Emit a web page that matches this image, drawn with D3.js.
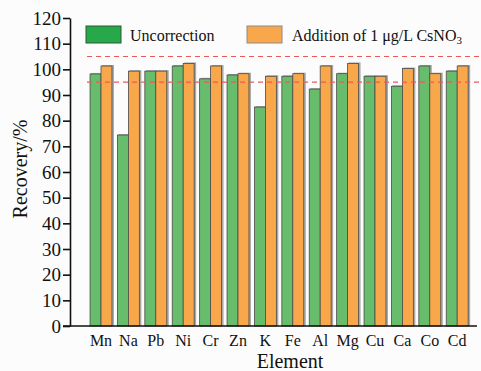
<!DOCTYPE html>
<html>
<head>
<meta charset="utf-8">
<script src="https://cdn.jsdelivr.net/npm/d3@7"></script>
<style>
  body { margin: 0; background: #fcfcfc; }
  svg { display: block; }
  text { font-family: "Liberation Serif", "Times New Roman", serif; fill: #111; }
</style>
</head>
<body>
<div id="chart"></div>
<script>
// data
var elements = ["Mn", "Na", "Pb", "Ni", "Cr", "Zn", "K", "Fe", "Al", "Mg", "Cu", "Ca", "Co", "Cd"];
var uncorrection = [98.2, 74.4, 99.3, 101.3, 96.3, 97.8, 85.3, 97.3, 92.3, 98.3, 97.3, 93.4, 101.3, 99.3];
var withCs = [101.3, 99.3, 99.3, 102.3, 101.3, 98.3, 97.3, 98.3, 101.3, 102.3, 97.3, 100.3, 98.3, 101.3];
var yTicks = [0, 10, 20, 30, 40, 50, 60, 70, 80, 90, 100, 110, 120];
var limits = [95, 105];

var width = 481, height = 371;

var svg = d3.select('#chart').append('svg')
  .attr('width', width)
  .attr('height', height);

svg.append('rect').attr('width', width).attr('height', height).attr('fill', '#fcfcfc');

var y = d3.scaleLinear().domain([0, 120]).range([326, 18]);

var x = d3.scaleBand()
  .domain(elements)
  .range([87.3, 470.9])
  .paddingInner(0.2)
  .paddingOuter(0.1);

var half = x.bandwidth() / 2;

var series = [
  { name: 'unc', values: uncorrection, fill: '#68bd6c', off: 0 },
  { name: 'cs', values: withCs, fill: '#f8a84b', off: half }
];

// bars, with a soft grey shadow like the original
series.forEach(function (s) {
  var g = svg.append('g').attr('class', 'bars-' + s.name);
  g.selectAll('rect.shadow')
    .data(s.values)
    .enter().append('rect')
    .attr('class', 'shadow')
    .attr('x', function (d, i) { return x(elements[i]) + s.off + 1; })
    .attr('y', function (d) { return y(d) - 1; })
    .attr('width', half + 1)
    .attr('height', function (d) { return y(0) - y(d) + 1; })
    .attr('fill', '#a8a8a8');
  g.selectAll('rect.bar')
    .data(s.values)
    .enter().append('rect')
    .attr('class', 'bar')
    .attr('x', function (d, i) { return x(elements[i]) + s.off; })
    .attr('y', function (d) { return y(d); })
    .attr('width', half)
    .attr('height', function (d) { return y(0) - y(d); })
    .attr('fill', s.fill)
    .attr('stroke', '#4a4a4a')
    .attr('stroke-width', 0.8);
});

// dashed limit lines
svg.selectAll('line.limit')
  .data(limits)
  .enter().append('line')
  .attr('class', 'limit')
  .attr('x1', 87).attr('x2', width)
  .attr('y1', function (d) { return y(d); })
  .attr('y2', function (d) { return y(d); })
  .attr('stroke', '#ea5a5a')
  .attr('stroke-width', 1.1)
  .attr('stroke-dasharray', '5,4');

// y axis
var yAxis = svg.append('g')
  .attr('transform', 'translate(70,0)')
  .call(d3.axisLeft(y).tickValues(yTicks).tickSize(7).tickSizeOuter(0).tickPadding(2));
yAxis.select('.domain').attr('stroke', '#111').attr('stroke-width', 1.6);
yAxis.selectAll('.tick line').attr('stroke', '#111').attr('stroke-width', 1.6);
yAxis.selectAll('.tick text')
  .attr('font-family', '"Liberation Serif", serif')
  .attr('font-size', 19)
  .attr('fill', '#111');

// x axis
var xAxis = svg.append('g')
  .attr('transform', 'translate(0,326)')
  .call(d3.axisBottom(x).tickSize(0).tickPadding(9));
xAxis.select('.domain').remove();
xAxis.selectAll('.tick text')
  .attr('font-family', '"Liberation Serif", serif')
  .attr('font-size', 16)
  .attr('fill', '#111');
svg.append('line')
  .attr('x1', 63).attr('x2', 477)
  .attr('y1', 326).attr('y2', 326)
  .attr('stroke', '#111')
  .attr('stroke-width', 1.6);

// axis titles
svg.append('text')
  .attr('x', 290).attr('y', 368)
  .attr('text-anchor', 'middle')
  .attr('font-size', 20)
  .text('Element');

svg.append('text')
  .attr('transform', 'translate(27,169) rotate(-90)')
  .attr('text-anchor', 'middle')
  .attr('font-size', 20)
  .text('Recovery/%');

// legend
var legend = svg.append('g');
legend.append('rect')
  .attr('x', 86).attr('y', 26).attr('width', 35).attr('height', 17)
  .attr('fill', '#27a84a').attr('stroke', '#2c5a34').attr('stroke-width', 1);
legend.append('text')
  .attr('x', 130).attr('y', 41)
  .attr('font-size', 16)
  .text('Uncorrection');

legend.append('rect')
  .attr('x', 247).attr('y', 26).attr('width', 35).attr('height', 17)
  .attr('fill', '#f8a84b').attr('stroke', '#8a8a8a').attr('stroke-width', 1);
var lt = legend.append('text')
  .attr('x', 292).attr('y', 41)
  .attr('font-size', 16);
lt.append('tspan').text('Addition of 1 \u03bcg/L CsNO');
lt.append('tspan').attr('font-size', 11).attr('dy', 3).text('3');
</script>
</body>
</html>
